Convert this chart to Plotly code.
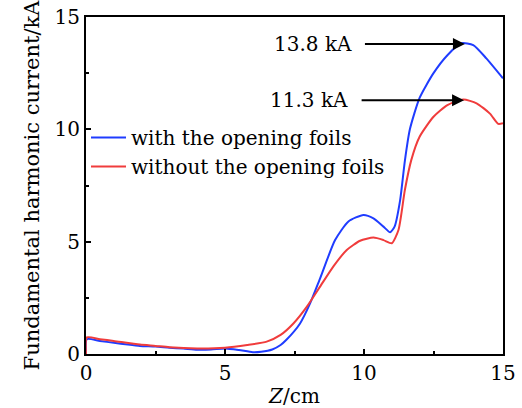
import plotly.graph_objects as go

z_with = [0, 0.03, 0.5, 1.0, 1.5, 1.94, 2.5, 3.0, 3.5, 4.0, 4.5, 5.0, 5.5, 6.0, 6.3, 6.7, 7.0, 7.2, 7.7, 8.06, 8.4, 8.96, 9.44, 9.98, 10.34, 10.7, 10.94, 11.1, 11.3, 11.47, 11.65, 12.0, 12.5, 13.0, 13.5, 13.93, 14.4, 15.0]
i_with = [0, 0.66, 0.58, 0.5, 0.42, 0.36, 0.33, 0.28, 0.24, 0.19, 0.2, 0.25, 0.18, 0.08, 0.1, 0.2, 0.4, 0.62, 1.36, 2.25, 3.3, 5.07, 5.9, 6.19, 6.04, 5.67, 5.42, 5.67, 6.85, 8.6, 10.0, 11.4, 12.5, 13.3, 13.83, 13.75, 13.16, 12.27]

z_without = [0, 0.03, 0.5, 1.0, 1.94, 2.5, 3.0, 4.0, 5.0, 5.8, 6.5, 7.0, 7.46, 7.94, 8.42, 8.9, 9.38, 9.86, 10.34, 10.7, 11.0, 11.24, 11.47, 11.7, 12.0, 12.5, 13.0, 13.57, 14.05, 14.53, 14.83, 15.0]
i_without = [0, 0.74, 0.66, 0.58, 0.42, 0.36, 0.3, 0.25, 0.28, 0.4, 0.55, 0.85, 1.36, 2.1, 3.0, 3.9, 4.63, 5.04, 5.18, 5.07, 4.93, 5.52, 7.3, 8.63, 9.67, 10.56, 11.08, 11.33, 11.16, 10.7, 10.24, 10.27]

series_names = ["with the opening foils", "without the opening foils"]
peak_labels = ["13.8 kA", "11.3 kA"]
peak_values = [13.8, 11.3]
peak_z = [13.63, 13.6]
label_z = [9.98, 9.86]

FONT = "DejaVu Serif"

fig = go.Figure()
fig.add_trace(go.Scatter(x=z_with, y=i_with, mode="lines", name=series_names[0],
                         line=dict(color="#1f3cff", width=2, shape="spline", smoothing=0.6)))
fig.add_trace(go.Scatter(x=z_without, y=i_without, mode="lines", name=series_names[1],
                         line=dict(color="#f03c3c", width=2, shape="spline", smoothing=0.6)))

for lab, v, zp, zl in zip(peak_labels, peak_values, peak_z, label_z):
    fig.add_annotation(x=zp, y=v, ax=zl, ay=v, xref="x", yref="y", axref="x", ayref="y",
                       text="", showarrow=True, arrowhead=2, arrowsize=1.2, arrowwidth=2, arrowcolor="black")
    fig.add_annotation(x=zl - 0.35, y=v, xref="x", yref="y", text=lab, showarrow=False,
                       xanchor="right", yanchor="middle", font=dict(family=FONT, size=20, color="black"))

axis_common = dict(showline=True, linecolor="black", linewidth=2, mirror=True, ticks="inside",
                   ticklen=5, tickwidth=1.5, tickcolor="black", showgrid=False, zeroline=False,
                   automargin=False,
                   tickfont=dict(family=FONT, size=20, color="black"),
                   minor=dict(ticks="inside", ticklen=3, tickwidth=1.5, tickcolor="black", dtick=2.5))

fig.update_xaxes(range=[0, 15], dtick=5, tick0=0,
                 title=dict(text="<i>Z</i>/cm", font=dict(family=FONT, size=20, color="black"), standoff=10),
                 **axis_common)
fig.update_yaxes(range=[0, 15], dtick=5, tick0=0,
                 title=dict(text="Fundamental harmonic current/kA", font=dict(family=FONT, size=21, color="black"), standoff=9),
                 **axis_common)

fig.update_layout(width=522, height=408, margin=dict(l=86, r=19, t=17, b=54),
                  plot_bgcolor="white", paper_bgcolor="white",
                  legend=dict(x=0.0, y=0.7, xanchor="left", yanchor="top", bgcolor="rgba(0,0,0,0)",
                              font=dict(family=FONT, size=20, color="black"), tracegroupgap=0,
                              itemwidth=35),
                  showlegend=True)

fig.write_html("out.html")
